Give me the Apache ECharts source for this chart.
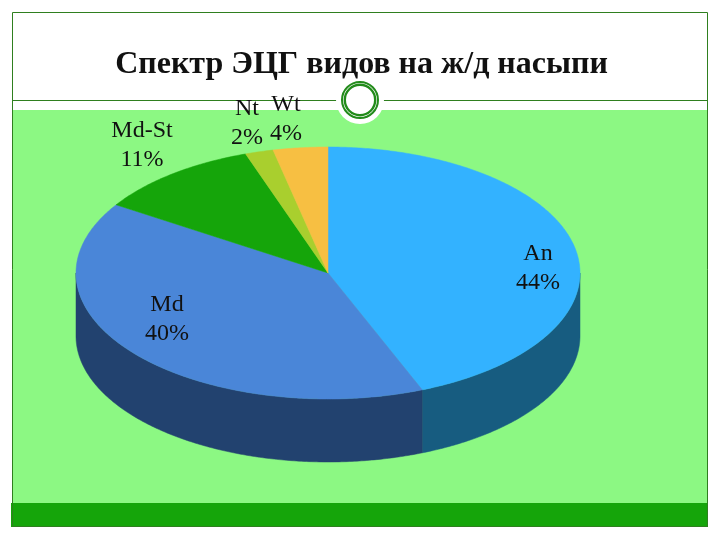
<!DOCTYPE html>
<html><head><meta charset="utf-8">
<style>html,body{margin:0;padding:0;background:#fff}#c{width:720px;height:540px}</style>
<script src="https://cdn.jsdelivr.net/npm/echarts@6/dist/echarts.min.js"></script>
</head><body><div id="c"></div>
<script>
const titleText = 'Спектр ЭЦГ видов на ж/д насыпи';
const categories = ['An', 'Md', 'Md-St', 'Nt', 'Wt'];
const shares = [43.9, 40.2, 10.6, 1.8, 3.5];

const topColors = ['#33B2FF', '#4A86D8', '#15A50A', '#A9CF2E', '#F7BF42'];
const sideColors = ['#175C80', '#22426F', '#0C6306', '#667C1C', '#947328'];
const labelCentres = [[538, 268], [167, 319], [142, 145], [247, 123], [286, 119]];

const cx = 328, cy = 273, rx = 252, ry = 126, depth = 63;
const total = shares.reduce((a, b) => a + b, 0);

function sliceRange(i) {
  let s = 0;
  for (let k = 0; k < i; k++) s += shares[k];
  return [s / total * 2 * Math.PI, (s + shares[i]) / total * 2 * Math.PI];
}
function rim(t, dy) {
  return [cx + rx * Math.sin(t), cy - ry * Math.cos(t) + dy];
}
function arc(a, b, dy) {
  const n = Math.max(2, Math.ceil((b - a) / 0.01));
  const pts = [];
  for (let j = 0; j <= n; j++) pts.push(rim(a + (b - a) * j / n, dy));
  return pts;
}
function renderSide(params) {
  const i = params.dataIndex;
  const [a0, b0] = sliceRange(i);
  const a = Math.max(a0, Math.PI / 2), b = Math.min(b0, 1.5 * Math.PI);
  if (b <= a) return { type: 'group', children: [] };
  return {
    type: 'polygon',
    shape: { points: arc(a, b, 0).concat(arc(a, b, depth).reverse()) },
    style: { fill: sideColors[i], stroke: sideColors[i], lineWidth: 0.5 }
  };
}
function renderTop(params) {
  const i = params.dataIndex;
  const [a, b] = sliceRange(i);
  return {
    type: 'polygon',
    shape: { points: [[cx, cy]].concat(arc(a, b, 0)) },
    style: { fill: topColors[i], stroke: topColors[i], lineWidth: 0.5 }
  };
}
function renderLabel(params, api) {
  const i = params.dataIndex;
  return {
    type: 'text',
    z2: 10,
    style: {
      x: labelCentres[i][0], y: labelCentres[i][1],
      text: categories[i] + '\n' + Math.round(api.value(0)) + '%',
      align: 'center', verticalAlign: 'middle',
      font: '24px "Liberation Serif"', lineHeight: 29, fill: '#111'
    }
  };
}
const rows = shares.map(v => [v]);
const chart = echarts.init(document.getElementById('c'), null, { width: 720, height: 540 });
chart.setOption({
  animation: false,
  backgroundColor: '#fff',
  title: {
    text: titleText, left: 356.5, top: 44, textAlign: 'center',
    textStyle: { fontFamily: 'Liberation Serif', fontWeight: 'bold', fontSize: 32, color: '#111' }
  },
  graphic: { elements: [
    { type: 'rect', z: 0, shape: { x: 12, y: 110, width: 696, height: 393 }, style: { fill: '#8CF883' } },
    { type: 'rect', z: 0, shape: { x: 11, y: 503, width: 697, height: 24 }, style: { fill: '#15A50A' } },
    { type: 'rect', z: 0, shape: { x: 12.5, y: 12.5, width: 695, height: 514 }, style: { fill: 'none', stroke: '#2F7F1F', lineWidth: 1 } },
    { type: 'line', z: 0, shape: { x1: 12, y1: 100.5, x2: 708, y2: 100.5 }, style: { stroke: '#2F7F1F', lineWidth: 1 } },
    { type: 'circle', z: 1, shape: { cx: 360, cy: 100, r: 24 }, style: { fill: '#fff' } },
    { type: 'circle', z: 1, shape: { cx: 360, cy: 100, r: 18 }, style: { fill: 'none', stroke: '#228B1A', lineWidth: 2 } },
    { type: 'circle', z: 1, shape: { cx: 360, cy: 100, r: 15.2 }, style: { fill: 'none', stroke: '#228B1A', lineWidth: 2.4 } }
  ] },
  series: [
    { type: 'custom', coordinateSystem: 'none', z: 3, data: rows, renderItem: renderSide, silent: true },
    { type: 'custom', coordinateSystem: 'none', z: 4, data: rows, renderItem: renderTop, silent: true },
    { type: 'custom', coordinateSystem: 'none', z: 5, data: rows, renderItem: renderLabel, silent: true }
  ]
});
</script></body></html>
